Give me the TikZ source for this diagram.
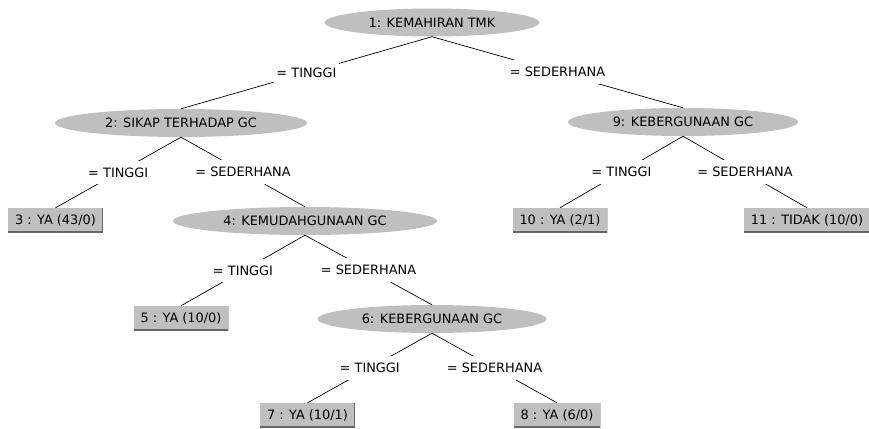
\documentclass[tikz,border=0pt]{standalone}
\usepackage{fontspec}
\setmainfont{DejaVu Sans}
\usetikzlibrary{shapes.geometric}

\begin{document}
\begin{tikzpicture}[x=1pt, y=1pt,
    font=\fontsize{12.9}{15}\selectfont,
    simpul/.style={ellipse, fill=gray!50, inner sep=0pt, minimum height=28pt},
    daun/.style={rectangle, fill=gray!50, inner xsep=7pt, inner ysep=0pt,
        minimum height=24pt,
        path picture={\draw[gray!80!black, line width=1.2pt]
            (path picture bounding box.north east) --
            (path picture bounding box.south east) --
            (path picture bounding box.south west);}},
    cabang/.style={fill=white, inner xsep=2pt, inner ysep=7pt}]

    \useasboundingbox (0,0) rectangle (869,-428);

    % Simpul keputusan
    \node[simpul, minimum width=215pt] (n1) at (432,-22.5) {1: KEMAHIRAN TMK};
    \node[simpul, minimum width=252pt] (n2) at (181,-123) {2: SIKAP TERHADAP GC};
    \node[simpul, minimum width=230pt] (n9) at (683,-122) {9: KEBERGUNAAN GC};
    \node[simpul, minimum width=264pt] (n4) at (305,-221) {4: KEMUDAHGUNAAN GC};
    \node[simpul, minimum width=229pt] (n6) at (432,-319) {6: KEBERGUNAAN GC};

    % Daun
    \node[daun] (n3) at (55.5,-220) {3 : YA (43/0)};
    \node[daun] (n10) at (560,-220) {10 : YA (2/1)};
    \node[daun] (n11) at (807,-220) {11 : TIDAK (10/0)};
    \node[daun] (n5) at (181,-318) {5 : YA (10/0)};
    \node[daun] (n7) at (307.5,-415) {7 : YA (10/1)};
    \node[daun] (n8) at (557,-415) {8 : YA (6/0)};

    % Cabang
    \begin{scope}[line width=0.7pt]
    \path[draw] (n1.south) -- node[cabang]{= TINGGI} (n2.north);
    \path[draw] (n1.south) -- node[cabang]{= SEDERHANA} (n9.north);
    \path[draw] (n2.south) -- node[cabang]{= TINGGI} (n3.north);
    \path[draw] (n2.south) -- node[cabang]{= SEDERHANA} (n4.north);
    \path[draw] (n9.south) -- node[cabang]{= TINGGI} (n10.north);
    \path[draw] (n9.south) -- node[cabang]{= SEDERHANA} (n11.north);
    \path[draw] (n4.south) -- node[cabang]{= TINGGI} (n5.north);
    \path[draw] (n4.south) -- node[cabang]{= SEDERHANA} (n6.north);
    \path[draw] (n6.south) -- node[cabang]{= TINGGI} (n7.north);
    \path[draw] (n6.south) -- node[cabang]{= SEDERHANA} (n8.north);
    \end{scope}

\end{tikzpicture}
\end{document}
